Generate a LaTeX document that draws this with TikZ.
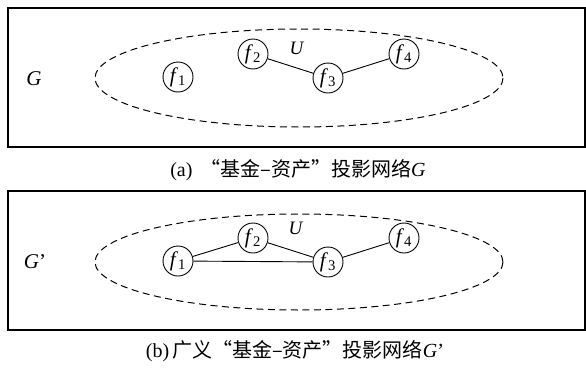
\documentclass[tikz,border=0pt]{standalone}
\usepackage{fontspec}
\setmainfont{Liberation Serif}
\newfontfamily\cjk{Noto Sans CJK SC}
\begin{document}
\begin{tikzpicture}[x=1pt,y=-1pt,
  panel/.style={draw,line width=1.2pt},
  hull/.style={draw,dash pattern=on 7pt off 4.5pt,line width=1pt},
  fund/.style={circle,draw,line width=0.9pt,minimum size=30pt,inner sep=0pt,
    font=\fontsize{21}{21}\selectfont},
  link/.style={line width=0.9pt},
  lab/.style={inner sep=0pt,font=\fontsize{21}{21}\selectfont},
  setlab/.style={inner sep=0pt,font=\fontsize{19}{19}\selectfont},
  captext/.style={inner sep=0pt,font=\fontsize{20}{20}\selectfont}]
\useasboundingbox (0,0) rectangle (586,367);

% panel (a): projection network G
\draw[panel] (8,8) rectangle (585,147);
\draw[hull] (299,78) ellipse [x radius=204, y radius=49];
\node[lab] (ga) at (34,79) {\textit{G}};
\node[setlab] (ua) at (297,48) {\textit{U}};
\node[fund] (a1) at (178,77) {\textit{f}\textsubscript{1}};
\node[fund] (a2) at (253,54) {\textit{f}\textsubscript{2}};
\node[fund] (a3) at (328,78) {\textit{f}\textsubscript{3}};
\node[fund] (a4) at (404,54) {\textit{f}\textsubscript{4}};
\draw[link] (a2) -- (a3);
\draw[link] (a3) -- (a4);
\node[captext] (capa) at (298,170) {(a)\hspace{0.4em}{\cjk “基金–资产”投影网络}\textit{G}};

% panel (b): generalized projection network G'
\draw[panel] (8,191) rectangle (585,330);
\draw[hull] (299,262) ellipse [x radius=204, y radius=48];
\node[lab] (gb) at (35,262) {\textit{G}’};
\node[setlab] (ub) at (296,228) {\textit{U}};
\node[fund] (b1) at (178,261) {\textit{f}\textsubscript{1}};
\node[fund] (b2) at (253,238) {\textit{f}\textsubscript{2}};
\node[fund] (b3) at (328,262) {\textit{f}\textsubscript{3}};
\node[fund] (b4) at (404,238) {\textit{f}\textsubscript{4}};
\draw[link] (b1) -- (b2);
\draw[link] (b2) -- (b3);
\draw[link] (b1) -- (b3);
\draw[link] (b3) -- (b4);
\node[captext] (capb) at (295,351) {(b)\hspace{0.15em}{\cjk 广义“基金–资产”投影网络}\textit{G}’};
\end{tikzpicture}
\end{document}
